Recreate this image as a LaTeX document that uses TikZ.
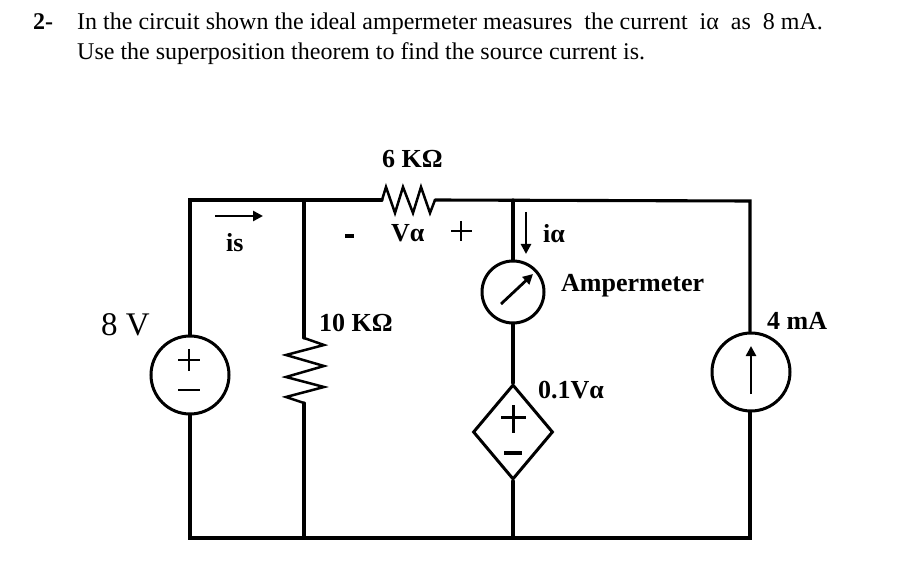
\documentclass[tikz,border=0pt]{standalone}
\usepackage{fontspec}
\setmainfont{Liberation Serif}
\usetikzlibrary{arrows.meta,shapes.geometric}
\tikzset{
  wire/.style={line width=3.1pt,line cap=round,line join=miter,black},
  thin wire/.style={line width=2.5pt,line join=miter,black},
  source/.style={circle,draw,line width=3pt,minimum size=78pt,inner sep=0pt},
  meter/.style={circle,draw,line width=3pt,minimum size=62pt,inner sep=0pt},
  depsource/.style={diamond,draw,line width=3pt,minimum width=80pt,minimum height=95pt,inner sep=0pt,aspect=0.84},
  arrowline/.style={line width=2.8pt,-{Stealth[length=10pt,width=10pt,inset=0pt]}},
  sign/.style={line width=2.6pt},
  body/.style={anchor=base west,inner sep=0pt,font=\fontsize{24pt}{28pt}\selectfont},
  lab/.style={anchor=base west,inner sep=0pt,font=\fontsize{26pt}{28pt}\selectfont\bfseries},
}
\begin{document}
\begin{tikzpicture}[x=1pt,y=-1pt]
\useasboundingbox (0,0) rectangle (900,572);
\fill[white] (0,0) rectangle (900,572);
% heading
\node[anchor=base west,inner sep=0pt,font=\fontsize{24pt}{28pt}\selectfont\bfseries] (num) at (33,30) {2-};
\node[body] (l1) at (77,30) {In the circuit shown the ideal ampermeter measures\ \ the current\ \ iα\ \ as\ \ 8 mA.};
\node[body] (l2) at (77,60) {Use the superposition theorem to find the source current is.};
% elements
\node[source] (vs) at (190,375) {};
\node[source] (cs) at (751,372) {};
\node[meter] (am) at (513,292) {};
\node[depsource] (dep) at (513,432) {};
\coordinate (tl) at (190,200);
\coordinate (tm) at (304,200);
\coordinate (tb) at (513,200);
\coordinate (tr) at (750,201);
\coordinate (bl) at (190,538);
\coordinate (bm) at (304,538);
\coordinate (bb) at (513,538);
\coordinate (br) at (750,538);
\coordinate (r6a) at (382,200);
\coordinate (r6b) at (435,200);
\coordinate (r10a) at (304,338);
\coordinate (r10b) at (304,403);
% wires
\draw[wire] (r6a) -- (tl) -- (vs.north);
\draw[wire] (vs.south) -- (bl) -- (br) -- (cs.south -| br);
\draw[wire] (tm) -- (r10a);
\draw[wire] (r10b) -- (bm);
\draw[wire] (r6b) -- (tr) -- (cs.north -| tr);
\draw[wire] (tb) -- (am.north);
\draw[wire] (am.south) -- (dep.north);
\draw[wire] (dep.south) -- (bb);
% resistors
\draw[thin wire] (r6a) -- (386,187) -- (395,213) -- (403,187) -- (413,213) -- (421,187) -- (430,213) -- (r6b);
\draw[thin wire] (r10a) -- (324,345) -- (286,355) -- (324,366) -- (286,377) -- (324,387) -- (286,397) -- (r10b);
% arrows
\draw[arrowline] (215,216) -- (263,216);
\draw[arrowline] (526,212) -- (526,254);
\draw[arrowline] (501,304) -- (533,274);
\draw[arrowline] (751,394) -- (751,346);
% signs
\draw[sign] (178,360) -- (200,360) (189,349) -- (189,371);
\draw[sign] (178,390) -- (200,390);
\draw[line width=3pt] (501,417) -- (526,417) (513,405) -- (513,433);
\draw[line width=3.6pt] (504,453) -- (522,453);
\draw[line width=4.5pt] (345,236) -- (354,236);
\draw[sign] (451,231) -- (472,231) (461,221) -- (461,241);
% labels
\node[lab] (lr6) at (382,168) {6 KΩ};
\node[lab] (lva) at (391,242) {Vα};
\node[lab] (lis) at (226,252) {is};
\node[lab] (lr10) at (319,331) {10 KΩ};
\node[lab] (lia) at (543,243) {iα};
\node[lab] (lam) at (561,291) {Ampermeter};
\node[lab] (lma) at (767,329) {4 mA};
\node[lab] (ldv) at (538,398) {0.1Vα};
\node[anchor=base west,inner sep=0pt,font=\fontsize{33pt}{36pt}\selectfont] (l8v) at (101,335) {8 V};
\end{tikzpicture}
\end{document}
